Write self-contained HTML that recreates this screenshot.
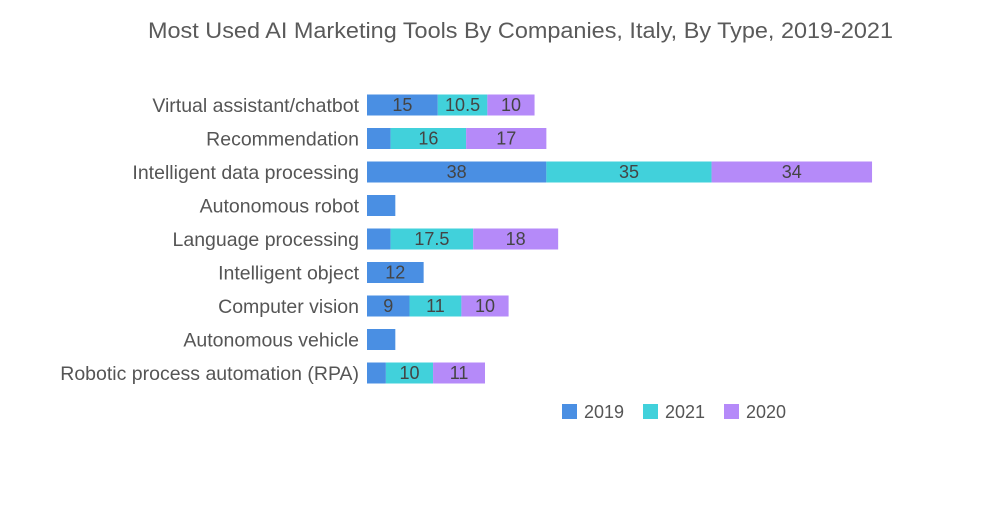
<!DOCTYPE html>
<html><head><meta charset="utf-8"><style>
body{margin:0;background:#fff;width:1000px;height:504px;overflow:hidden;font-family:"Liberation Sans",sans-serif}
</style></head><body>
<svg width="1000" height="504">
<text x="148" y="38" textLength="745" lengthAdjust="spacingAndGlyphs" font-size="22" fill="#5a5a5a">Most Used AI Marketing Tools By Companies, Italy, By Type, 2019-2021</text>
<g id="bars"></g>
<g id="legend"></g>
</svg>
<script>
const categories=["Virtual assistant/chatbot","Recommendation","Intelligent data processing","Autonomous robot","Language processing","Intelligent object","Computer vision","Autonomous vehicle","Robotic process automation (RPA)"];
const seriesNames=["2019","2021","2020"];
const v2019=[15,5,38,6,5,12,9,6,4];
const v2021=[10.5,16,35,0,17.5,0,11,0,10];
const v2020=[10,17,34,0,18,0,10,0,11];
const colors=["#4a8fe3","#41d1db","#b58af9"];
const ns="http://www.w3.org/2000/svg";
const x0=367,k=4.72,y0=105,dy=33.5,bh=21;
const X=v=>x0+v*k, Y=i=>y0+i*dy;
const g=document.getElementById('bars');
const all=[v2019,v2021,v2020];
categories.forEach((c,i)=>{
  const t=document.createElementNS(ns,'text');
  
  
  t.setAttribute('x',359);t.setAttribute('y',Y(i)+7);t.setAttribute('text-anchor','end');
  t.setAttribute('font-size','19.5');t.setAttribute('fill','#555');t.textContent=c;g.appendChild(t);
  let acc=0;
  all.forEach((arr,s)=>{
    const v=arr[i]; if(!v)return;
    const r=document.createElementNS(ns,'rect');
    
    
    r.setAttribute('x',X(acc));r.setAttribute('y',Y(i)-bh/2);r.setAttribute('width',v*k);r.setAttribute('height',bh);r.setAttribute('fill',colors[s]);g.appendChild(r);
    if(v>=8){const l=document.createElementNS(ns,'text');
      
      
      l.setAttribute('x',X(acc+v/2));l.setAttribute('y',Y(i)+6);l.setAttribute('text-anchor','middle');l.setAttribute('font-size','18');l.setAttribute('fill','#444');l.textContent=v;g.appendChild(l);}
    acc+=v;
  });
});
const lg=document.getElementById('legend');
const lx=[562,643,724];
seriesNames.forEach((n,s)=>{
  const r=document.createElementNS(ns,'rect');
  
  
  r.setAttribute('x',lx[s]);r.setAttribute('y',404);r.setAttribute('width',15);r.setAttribute('height',15);r.setAttribute('fill',colors[s]);lg.appendChild(r);
  const t=document.createElementNS(ns,'text');
  
  
  t.setAttribute('x',lx[s]+22);t.setAttribute('y',418);t.setAttribute('font-size','18');t.setAttribute('fill','#555');t.textContent=n;lg.appendChild(t);
});
</script>
</body></html>
